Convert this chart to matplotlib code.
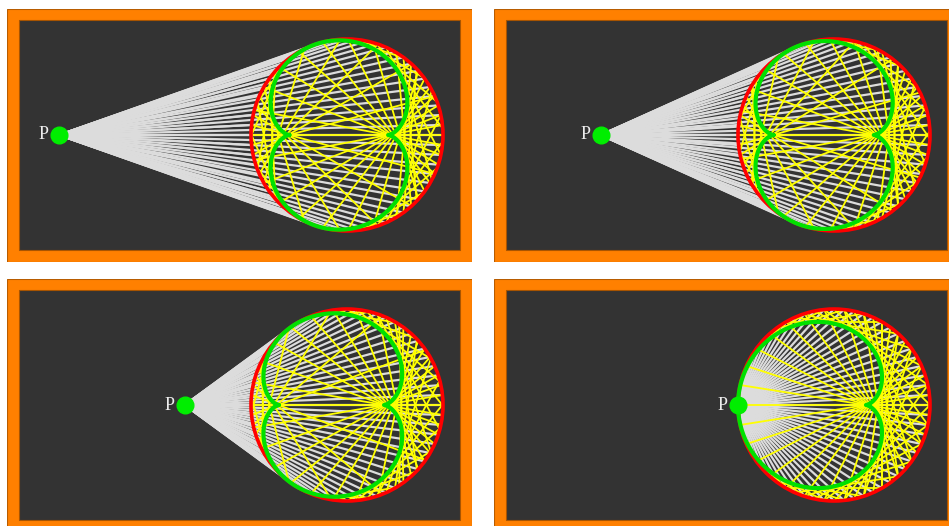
import numpy as np
import matplotlib
matplotlib.use("Agg")
import matplotlib.pyplot as plt
from matplotlib.collections import LineCollection
from matplotlib.patches import Rectangle, Circle

# ---- data (pixels / ratios) ----
panel_origins = [(7, 9), (494, 9), (7, 279), (494, 279)]   # orange frame top-left
panel_size = (465, 253)
inner_offset = (12, 11)
inner_size = (441, 230)
circle_center = (328, 115)        # relative to dark area
circle_radius = 96
source_dist = [3.0, 2.43, 1.69, 1.0]   # distance of P from centre, in radii
n_white = 60
n_yellow = 60
label_text = "P"

W, H = 949, 526
fig = plt.figure(figsize=(W / 100, H / 100), dpi=100)
fig.patch.set_facecolor("white")


def reflect(t, P, C, R):
    n = np.stack([np.cos(t), np.sin(t)], axis=-1)
    Q = C + R * n
    u = Q - P
    u = u / np.linalg.norm(u, axis=-1, keepdims=True)
    r = u - 2 * np.sum(u * n, axis=-1, keepdims=True) * n
    return Q, r, n


def cross(a, b):
    return a[..., 0] * b[..., 1] - a[..., 1] * b[..., 0]


for (ox, oy), ratio in zip(panel_origins, source_dist):
    ax = fig.add_axes([ox / W, 1 - (oy + panel_size[1]) / H,
                       panel_size[0] / W, panel_size[1] / H])
    ax.set_xlim(0, panel_size[0])
    ax.set_ylim(panel_size[1], 0)
    ax.axis("off")

    ax.add_patch(Rectangle((0, 0), panel_size[0], panel_size[1],
                           facecolor="#ff8000", edgecolor="#b85c00", lw=0.8, zorder=0))
    ax.add_patch(Rectangle(inner_offset, inner_size[0], inner_size[1],
                           facecolor="#333333", edgecolor="#a85400", lw=0.8, zorder=1))

    C = np.array([inner_offset[0] + circle_center[0], inner_offset[1] + circle_center[1]], float)
    R = circle_radius
    P = C - np.array([ratio * R, 0.0])

    # white rays from P
    tw = np.pi + 2 * np.pi * np.arange(n_white) / n_white
    Qw = C + R * np.stack([np.cos(tw), np.sin(tw)], axis=-1)
    segs = [[P, q] for q in Qw]
    ax.add_collection(LineCollection(segs, colors="#dcdcdc", linewidths=1.6, zorder=2))

    # yellow reflected chords
    ty = np.pi + 2 * np.pi * np.arange(1, n_yellow) / n_yellow
    Qy, ry, ny = reflect(ty, P, C, R)
    s = -2 * R * np.sum(ny * ry, axis=-1, keepdims=True)
    Q2 = Qy + s * ry
    segs = [[a, b] for a, b in zip(Qy, Q2)]
    ax.add_collection(LineCollection(segs, colors="#ffff00", linewidths=1.3, zorder=3))

    # mirror
    ax.add_patch(Circle(C, R, fill=False, edgecolor="#ff0000", lw=2.6, zorder=4))

    # caustic = envelope of reflected lines
    t = np.linspace(-np.pi + 1e-3, np.pi - 1e-3, 4000)
    h = 1e-5
    Q, r, _ = reflect(t, P, C, R)
    Q1, r1, _ = reflect(t + h, P, C, R)
    Q0, r0, _ = reflect(t - h, P, C, R)
    dQ = (Q1 - Q0) / (2 * h)
    dr = (r1 - r0) / (2 * h)
    ss = -cross(dQ, r) / cross(dr, r)
    E = Q + ss[:, None] * r
    out = np.linalg.norm(E - C, axis=-1) > R * 1.01
    E[out] = np.nan
    ax.plot(E[:, 0], E[:, 1], color="#00e000", lw=3.0, zorder=5,
            solid_capstyle="round")

    # source point
    ax.plot(P[0], P[1], "o", color="#00ee00", ms=12, zorder=6)
    ax.text(P[0] - 10, P[1], label_text, color="#eeeeee", fontsize=13,
            family=["Liberation Serif", "DejaVu Serif"], ha="right", va="center", zorder=7)

fig.savefig("out.png", dpi=100, facecolor="white")
